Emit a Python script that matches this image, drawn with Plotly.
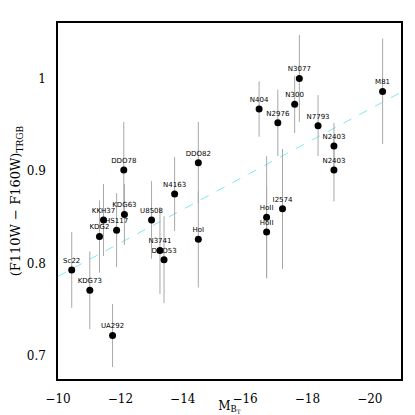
import plotly.graph_objects as go

names = ["Sc22", "KDG73", "KDG2", "KKH37", "HS117", "KDG63", "UA292", "DDO78",
         "U8508", "N3741", "DDO53", "N4163", "DDO82", "HoI", "N404", "HoII",
         "HoII", "I2574", "N2976", "N300", "N3077", "N7793", "N2403", "N2403", "M81"]
mag = [-10.44, -11.02, -11.33, -11.46, -11.88, -12.13, -11.75, -12.11,
       -13.00, -13.27, -13.40, -13.74, -14.50, -14.50, -16.45, -16.69,
       -16.69, -17.20, -17.05, -17.59, -17.74, -18.34, -18.85, -18.85, -20.41]
color = [0.793, 0.771, 0.829, 0.847, 0.836, 0.853, 0.722, 0.901,
         0.847, 0.814, 0.804, 0.875, 0.909, 0.826, 0.967, 0.850,
         0.834, 0.859, 0.952, 0.972, 1.000, 0.949, 0.927, 0.901, 0.986]
err = [0.041, 0.042, 0.039, 0.039, 0.040, 0.033, 0.034, 0.052,
       0.042, 0.047, 0.047, 0.040, 0.044, 0.052, 0.030, 0.066,
       0.050, 0.065, 0.036, 0.031, 0.047, 0.033, 0.025, 0.034, 0.057]

fit_x = [-10, -21]
fit_intercept = 0.786
fit_slope = -0.0181
fit_y = [fit_intercept + fit_slope * (m + 10) for m in fit_x]

x_range = [-10, -21]
y_range = [0.675, 1.06]
x_major, x_minor = 2, 0.5
y_major, y_minor = 0.1, 0.02

fig = go.Figure()
fig.add_trace(go.Scatter(
    x=fit_x, y=fit_y, mode="lines",
    line=dict(color="#7fe8f0", width=1, dash="dash"),
    hoverinfo="skip", showlegend=False))
fig.add_trace(go.Scatter(
    x=mag, y=color, mode="markers+text", text=names,
    textposition="top center",
    textfont=dict(family="DejaVu Sans", size=7, color="black"),
    marker=dict(color="black", size=7),
    error_y=dict(type="data", array=err, color="#a8a8a8", thickness=1, width=0),
    showlegend=False))

tfont = dict(family="DejaVu Serif", size=12, color="black")


def tick_axis(rng, dtick, length, overlay, side, pos):
    # outside ticks on a free axis sitting on the opposite frame edge,
    # so they point into the plotting area
    return dict(range=rng, dtick=dtick, tick0=0, overlaying=overlay,
                anchor="free", position=pos, side=side,
                ticks="outside", ticklen=length, tickwidth=1.2, tickcolor="black",
                showticklabels=False, showline=False, showgrid=False,
                zeroline=False)


fig.update_layout(
    template="none",
    width=407, height=407,
    # page body has an 8px margin, so the figure is drawn 8px in from the corner
    margin=dict(l=50, r=14, t=15, b=36),
    paper_bgcolor="white", plot_bgcolor="white",
    xaxis=dict(range=x_range, dtick=x_major, tick0=0, ticks="",
               showline=True, linecolor="black", linewidth=1.5, mirror=True,
               showgrid=False, zeroline=False, tickfont=tfont, ticklabelstandoff=8,
               title=dict(text="M<sub>B<sub>T</sub></sub>", standoff=4,
                          font=dict(family="DejaVu Serif", size=12, color="black"))),
    yaxis=dict(range=y_range, dtick=y_major, tick0=0, ticks="",
               showline=True, linecolor="black", linewidth=1.5, mirror=True,
               showgrid=False, zeroline=False, tickfont=tfont, ticklabelstandoff=8,
               title=dict(text="(F110W − F160W)<sub>TRGB</sub>", standoff=8,
                          font=dict(family="DejaVu Serif", size=13, color="black"))),
    xaxis3=tick_axis(x_range, x_major, 10, "x", "top", 0),
    xaxis4=tick_axis(x_range, x_minor, 5, "x", "top", 0),
    xaxis5=tick_axis(x_range, x_major, 10, "x", "bottom", 1),
    xaxis6=tick_axis(x_range, x_minor, 5, "x", "bottom", 1),
    yaxis3=tick_axis(y_range, y_major, 10, "y", "right", 0),
    yaxis4=tick_axis(y_range, y_minor, 5, "y", "right", 0),
    yaxis5=tick_axis(y_range, y_major, 10, "y", "left", 1),
    yaxis6=tick_axis(y_range, y_minor, 5, "y", "left", 1),
)

fig.write_html("out.html")
